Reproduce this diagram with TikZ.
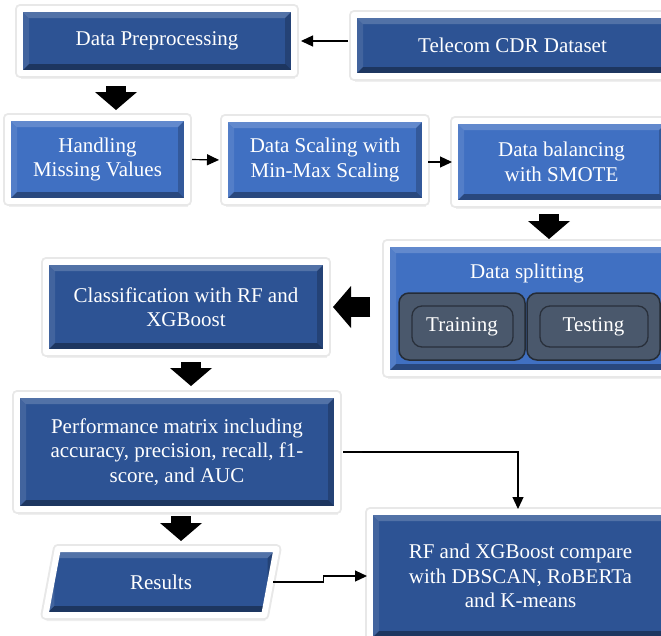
\documentclass[tikz,border=0pt]{standalone}
\usepackage{fontspec}
\setmainfont{Liberation Serif}
\usetikzlibrary{shapes.geometric, arrows.meta, shadows}

\definecolor{darkbox}{RGB}{45,83,148}
\definecolor{lightbox}{RGB}{64,112,194}
\definecolor{slatebox}{RGB}{74,88,108}

\tikzset{
 bevel/.style={path picture={
  \fill[white,opacity=.18] (path picture bounding box.north west) -- (path picture bounding box.north east) -- ([shift={(-9pt,-9pt)}]path picture bounding box.north east) -- ([shift={(9pt,-9pt)}]path picture bounding box.north west) -- cycle;
  \fill[white,opacity=.1] (path picture bounding box.north west) -- (path picture bounding box.south west) -- ([shift={(9pt,9pt)}]path picture bounding box.south west) -- ([shift={(9pt,-9pt)}]path picture bounding box.north west) -- cycle;
  \fill[black,opacity=.35] (path picture bounding box.south west) -- (path picture bounding box.south east) -- ([shift={(-9pt,9pt)}]path picture bounding box.south east) -- ([shift={(9pt,9pt)}]path picture bounding box.south west) -- cycle;
  \fill[black,opacity=.2] (path picture bounding box.north east) -- (path picture bounding box.south east) -- ([shift={(-9pt,9pt)}]path picture bounding box.south east) -- ([shift={(-9pt,-9pt)}]path picture bounding box.north east) -- cycle;
 }},
 stage/.style={rectangle, draw=white, line width=6pt, line join=round, text=white, align=center, inner sep=0pt,
  font=\fontsize{21}{24.5}\selectfont,
  drop shadow={opacity=.13, shadow xshift=1pt, shadow yshift=-6pt},
  preaction={draw=black!9, line width=10pt, line join=round}, bevel},
 darkstage/.style={stage, fill=darkbox},
 lightstage/.style={stage, fill=lightbox},
 part/.style={rectangle, rounded corners=10pt, fill=slatebox, draw=slatebox!50!black, line width=1.5pt,
  text=white, inner sep=0pt, minimum height=67pt, font=\fontsize{21}{24.5}\selectfont,
  path picture={\draw[slatebox!55!black, line width=1.3pt] ([shift={(13pt,-13pt)}]path picture bounding box.north west) rectangle ([shift={(-12pt,13pt)}]path picture bounding box.south east);}},
 link/.style={-{Triangle[length=12pt,width=11pt]}, line width=1.2pt},
 bigarrow/.style={-{Triangle[length=18pt,width=42pt,line width=0pt]}, line width=20pt},
}

\begin{document}
\begin{tikzpicture}[x=1pt, y=-1pt]
\useasboundingbox (0,0) rectangle (661,635);

\node[darkstage, minimum width=274pt, minimum height=64pt] (prep) at (157,41) {Data Preprocessing};
\node[darkstage, minimum width=317pt, minimum height=61pt] (cdr) at (512.5,45.5) {Telecom CDR Dataset};
\node[lightstage, minimum width=179pt, minimum height=83pt] (missing) at (97.5,159.5) {Handling\\Missing Values};
\node[lightstage, minimum width=200pt, minimum height=82pt] (scaling) at (325,160) {Data Scaling with\\Min-Max Scaling};
\node[lightstage, minimum width=213pt, minimum height=82pt] (balance) at (561.5,162) {Data balancing\\with SMOTE};
\node[lightstage, minimum width=283pt, minimum height=129pt] (split) at (528.5,308.5) {};
\node[text=white, anchor=base, font=\fontsize{21}{24.5}\selectfont] (splitlbl) at (527,278) {Data splitting};
\node[part, minimum width=126pt] (train) at (462,326.5) {Training};
\node[part, minimum width=133pt] (test) at (593.5,326.5) {Testing};
\node[darkstage, minimum width=280pt, minimum height=90pt] (classify) at (186,307) {Classification with RF and\\XGBoost};
\node[darkstage, minimum width=320pt, minimum height=114pt] (perf) at (177,452) {Performance matrix including\\accuracy, precision, recall, f1-\\score, and AUC};
\node[darkstage, trapezium, trapezium left angle=76, trapezium right angle=104, trapezium stretches=true,
 minimum width=232pt, minimum height=66pt] (result) at (161,582) {Results};
\node[darkstage, minimum width=301pt, minimum height=128pt] (compare) at (520.5,576) {RF and XGBoost compare\\with DBSCAN, RoBERTa\\and K-means};

\draw[link, shorten <=3pt, shorten >=4pt] (cdr.west |- prep.east) -- (prep.east);
\draw[link, shorten <=2pt, shorten >=3pt] (missing.east) -- (scaling.west);
\draw[link] (scaling.east |- balance.west) -- (balance.west);
\draw[link, shorten <=3pt] (perf.east) -| ([xshift=-2.5pt]compare.north);
\draw[link] (result.east) -- ++(50,0) |- (compare.west);

\draw[bigarrow, shorten <=10pt, shorten >=5pt] ([xshift=-41pt]prep.south) -- ([xshift=-41pt]prep.south |- missing.north);
\draw[bigarrow, shorten <=8pt, shorten >=2pt] ([xshift=-12.5pt]balance.south) -- ([xshift=-12.5pt]balance.south |- split.north);
\draw[bigarrow, shorten <=14pt, shorten >=4pt] (split.west |- classify.east) -- (classify.east);
\draw[bigarrow, shorten <=7pt, shorten >=6pt] ([xshift=5pt]classify.south) -- ([xshift=5pt]classify.south |- perf.north);
\draw[bigarrow, shorten <=4pt, shorten >=5pt] ([xshift=4pt]perf.south) -- ([xshift=4pt]perf.south |- result.north);

\end{tikzpicture}
\end{document}
